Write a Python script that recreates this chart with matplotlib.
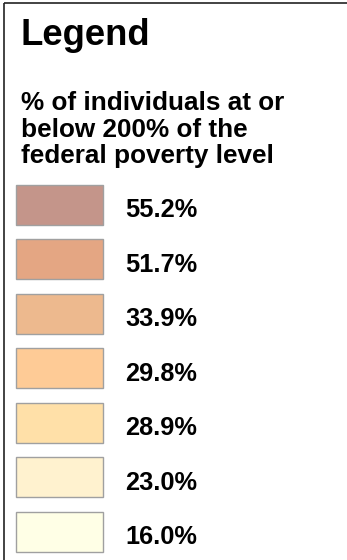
import matplotlib
matplotlib.use("Agg")
import matplotlib.pyplot as plt
import matplotlib.patches as mpatches

# legend classes (top = highest share)
labels = ["55.2%", "51.7%", "33.9%", "29.8%", "28.9%", "23.0%", "16.0%"]
colors = ["#C4958A", "#E4A683", "#EDB98E", "#FECB96", "#FFE0A8", "#FFF2CF", "#FFFFE6"]
title = "Legend"
subtitle = ["% of individuals at or", "below 200% of the", "federal poverty level"]

W, H = 347, 560
fig = plt.figure(figsize=(W / 100, H / 100), dpi=100)
ax = fig.add_axes([0, 0, 1, 1])
ax.set_xlim(0, W)
ax.set_ylim(H, 0)
ax.axis("off")

font = ["Liberation Sans", "DejaVu Sans"]

# frame: top and left edges only
ax.plot([4, W], [3, 3], color="#222222", lw=1.2, solid_capstyle="butt")
ax.plot([4, 4], [3, H], color="#222222", lw=1.2, solid_capstyle="butt")

ax.text(21, 45, title, fontsize=26.3, fontweight="bold", family=font, va="baseline")
for i, line in enumerate(subtitle):
    ax.text(21, 110 + i * 26.7, line, fontsize=18.8, fontweight="bold", family=font, va="baseline")

top0, pitch, sh = 184.5, 54.55, 40
for i, (lab, c) in enumerate(zip(labels, colors)):
    y = top0 + i * pitch
    ax.add_patch(mpatches.Rectangle((16, y), 87, sh, facecolor=c, edgecolor="#A0A0A0", lw=1))
    ax.text(125, y + 32.5, lab, fontsize=18.3, fontweight="bold", family=font, va="baseline")

fig.savefig("out.png", dpi=100)
